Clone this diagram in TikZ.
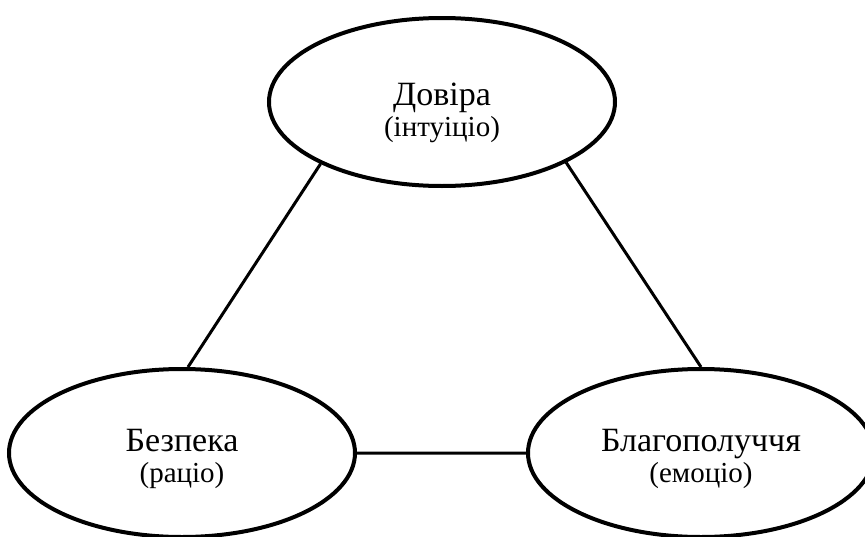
\documentclass[tikz,border=0pt]{standalone}
\usepackage{fontspec}
\setmainfont{Liberation Serif}
\usepackage{tikz}
\usetikzlibrary{
    shapes,
    shapes.geometric,
    positioning
}
\tikzset{
  value/.style = {
      draw,
      ellipse,
      line width=4pt,
      minimum width=346pt,
      minimum height=168pt,
      inner sep=0pt
  },
  word/.style = {
      align=center,
      inner sep=0pt,
      font=\fontsize{29}{31}\selectfont
  },
  edge/.style = {
      line width=3pt
  }
}

\begin{document}
\begin{tikzpicture}[node distance=351pt and 260pt, on grid]
        \useasboundingbox (-442pt,102pt) rectangle (423pt,-434pt);
        \node[value, label={[word, yshift=-11pt]center:{\fontsize{34}{31}\selectfont Довіра}\\(інтуіціо)}] (trust) {};
        \node[value, below left=of trust, label={[word, yshift=-6pt]center:{\fontsize{34}{31}\selectfont Безпека}\\(раціо)}] (safety) {};
        \node[value, below right=of trust, xshift=-1pt, label={[word, yshift=-6pt]center:{\fontsize{34}{31}\selectfont Благополуччя}\\(емоціо)}] (wellbeing) {};
        % Edges
        \path[draw, edge]
        (trust.207) -- (safety.86)
        (trust.334) -- (wellbeing.90)
        (safety.east) -- (wellbeing.west);
    \end{tikzpicture}
\end{document}
